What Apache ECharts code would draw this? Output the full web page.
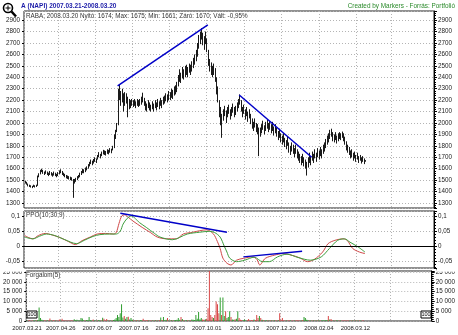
<!DOCTYPE html>
<html><head><meta charset="utf-8">
<script src="https://cdn.jsdelivr.net/npm/echarts@6/dist/echarts.min.js"></script>
<style>html,body{margin:0;padding:0;background:#fff}#c{width:458px;height:335px}</style>
</head><body><div id="c"></div>
<script>
// ---------- texts ----------
const titleText = 'A (NAPI) 2007.03.21-2008.03.20';
const creditText = 'Created by Markers - Forrás: Portfolió';
const priceLegend = 'RABA; 2008.03.20 Nyitó: 1674; Max: 1675; Min: 1661; Záró: 1670; Vált: -0,95%';
const ppoLegend = 'PPO(10;30;9)';
const volLegend = 'Forgalom(5)';

// ---------- calendar ----------
const startDate = [2007, 3, 21];
const slotCount = 300;
const holidays = ['2007.04.09','2007.04.30','2007.05.01','2007.05.28','2007.08.20','2007.10.22','2007.10.23',
  '2007.11.01','2007.12.24','2007.12.25','2007.12.26','2008.01.01','2008.03.24','2008.05.01','2008.05.12'];
const tickLabels = ['2007.03.21','2007.04.26','2007.06.07','2007.07.16','2007.08.23','2007.10.01',
  '2007.11.13','2007.12.20','2008.02.04','2008.03.12'];
const gridDates = tickLabels.concat(['2008.04.18']);

// ---------- price bars (daily) ----------
const closes = [
1480,1470,1455,1450,1445,1440,1450,1445,1450,1530,
1550,1580,1590,1570,1560,1575,1560,1550,1565,1555,
1545,1560,1550,1540,1555,1570,1585,1560,1550,1540,
1530,1525,1520,1515,1510,1480,1490,1500,1520,1530,
1545,1560,1580,1575,1590,1600,1620,1640,1660,1650,
1665,1680,1670,1700,1720,1710,1730,1745,1740,1735,
1750,1745,1760,1755,1780,1800,1880,1960,2250,2310,
2200,2280,2150,2230,2220,2100,2180,2160,2190,2170,
2180,2160,2190,2175,2185,2200,2240,2190,2150,2140,
2180,2150,2130,2160,2140,2170,2150,2180,2160,2190,
2170,2200,2210,2230,2220,2250,2240,2270,2260,2290,
2300,2320,2380,2420,2400,2450,2430,2460,2480,2450,
2490,2470,2500,2530,2560,2600,2650,2720,2760,2800,
2740,2700,2760,2680,2560,2500,2470,2450,2480,2420,
2300,2230,2100,2050,2000,2080,2120,2050,2100,2130,
2080,2110,2140,2100,2120,2150,2180,2220,2150,2100,
2130,2080,2110,2060,2090,2040,2000,1980,2010,1970,
1950,1920,1930,1960,1990,1950,1980,2000,1970,1990,
1960,1980,1940,1960,1930,1900,1920,1880,1860,1880,
1840,1820,1850,1790,1760,1800,1780,1750,1780,1740,
1720,1700,1680,1700,1660,1640,1600,1660,1700,1680,
1720,1700,1740,1710,1750,1730,1760,1740,1780,1800,
1830,1860,1880,1910,1930,1880,1870,1890,1860,1880,
1900,1890,1910,1880,1850,1800,1780,1760,1720,1740,
1700,1720,1690,1710,1680,1700,1670,1690,1660,1670];
const highs = [
1495,1485,1470,1460,1455,1450,1460,1455,1460,1540,
1560,1590,1600,1590,1575,1585,1575,1565,1580,1570,
1560,1575,1565,1555,1570,1585,1595,1580,1565,1555,
1545,1540,1535,1530,1525,1510,1510,1520,1535,1545,
1565,1580,1600,1595,1610,1620,1640,1660,1680,1670,
1685,1700,1690,1720,1745,1730,1750,1765,1760,1755,
1770,1765,1780,1775,1800,1900,1940,2000,2300,2335,
2280,2300,2260,2270,2260,2230,2210,2200,2210,2200,
2210,2190,2210,2200,2210,2230,2265,2220,2190,2170,
2200,2180,2160,2190,2170,2200,2180,2210,2190,2220,
2200,2230,2240,2260,2250,2280,2270,2300,2290,2320,
2330,2360,2420,2470,2440,2490,2470,2500,2510,2490,
2520,2510,2540,2570,2600,2640,2700,2770,2800,2830,
2790,2760,2800,2740,2640,2560,2530,2500,2520,2480,
2400,2320,2200,2140,2080,2120,2150,2110,2140,2160,
2120,2140,2170,2140,2150,2180,2210,2250,2200,2140,
2160,2120,2140,2100,2120,2080,2040,2010,2040,2000,
1990,1960,1960,1990,2020,1980,2010,2030,2000,2020,
1990,2010,1970,1990,1960,1930,1950,1910,1890,1910,
1870,1850,1880,1830,1800,1830,1810,1780,1810,1770,
1750,1730,1710,1730,1700,1680,1660,1700,1740,1710,
1750,1730,1770,1740,1780,1760,1790,1770,1810,1830,
1860,1890,1910,1940,1950,1920,1900,1920,1890,1910,
1920,1910,1925,1910,1880,1840,1810,1790,1760,1770,
1740,1750,1720,1740,1710,1720,1700,1710,1690,1675];
const lows = [
1470,1460,1445,1440,1435,1430,1440,1435,1440,1450,
1525,1550,1570,1555,1545,1555,1545,1535,1545,1540,
1530,1540,1535,1525,1535,1550,1560,1545,1535,1525,
1515,1510,1505,1500,1495,1345,1470,1485,1500,1515,
1525,1545,1560,1560,1570,1585,1600,1620,1640,1630,
1645,1660,1650,1680,1700,1690,1710,1725,1720,1715,
1730,1725,1740,1735,1760,1780,1860,1920,1980,2200,
2150,2180,2100,2150,2170,2050,2120,2130,2150,2140,
2150,2130,2150,2140,2150,2160,2180,2150,2110,2100,
2130,2110,2100,2120,2100,2130,2110,2140,2120,2150,
2130,2160,2170,2190,2180,2200,2200,2220,2210,2240,
2250,2270,2320,2360,2350,2390,2380,2400,2420,2400,
2440,2420,2450,2480,2510,2540,2580,2650,2690,2730,
2680,2640,2690,2620,2500,2450,2420,2400,2420,2360,
2250,2180,2050,1980,1870,2020,2060,2000,2050,2080,
2030,2060,2090,2050,2070,2100,2130,2160,2100,2050,
2080,2030,2060,2010,2040,1990,1950,1930,1960,1920,
1900,1710,1880,1910,1940,1900,1930,1950,1920,1940,
1910,1930,1890,1910,1880,1850,1870,1830,1810,1830,
1790,1770,1800,1740,1720,1750,1730,1700,1730,1690,
1670,1650,1630,1650,1620,1600,1540,1610,1650,1630,
1670,1650,1690,1660,1700,1680,1710,1690,1730,1750,
1780,1810,1830,1860,1880,1840,1830,1850,1820,1840,
1860,1850,1870,1840,1810,1760,1740,1720,1690,1700,
1670,1690,1660,1680,1650,1670,1645,1660,1640,1661];

// ---------- volume (Forgalom) ----------
const volumes = [
300,200,400,150,250,200,350,300,500,6900,
1500,600,400,300,250,350,200,1300,300,250,
500,200,300,150,800,300,1200,250,200,300,
150,200,250,300,200,900,400,600,300,250,
1500,1300,400,300,500,350,2000,400,300,800,
250,300,200,400,350,300,1600,1200,300,1000,
250,200,300,250,500,800,1500,3000,2000,4000,
8600,1800,2500,1200,2000,2200,800,1500,600,400,
300,350,250,300,400,350,1200,300,250,500,
300,200,250,300,200,350,300,250,400,1800,
500,2000,400,600,1500,300,250,400,300,350,
500,600,1500,700,2000,1000,400,300,350,400,
300,250,800,600,500,3000,1200,4600,900,1500,
800,700,900,1200,6500,28000,3000,2000,1500,3000,
10000,8500,4000,12000,3000,12000,2500,5000,1500,2000,
5000,2000,800,600,900,1200,5000,1500,600,500,
400,800,300,400,1000,300,500,400,800,500,
3000,1500,2500,1500,600,400,300,350,250,300,
400,300,250,350,300,200,400,4000,600,1500,
300,250,200,300,400,300,250,200,300,350,
400,300,250,300,500,2000,1500,600,400,300,
250,300,200,250,300,200,350,300,250,400,
300,350,500,2500,800,1000,300,250,300,200,
250,300,200,250,300,200,250,300,200,250,
300,200,250,300,200,250,300,200,250,300];
// u = up day (green), d = down day (red)
const volSide = ('udddduuduu'+'uuudduddud'+'dudddudddd'+'ddddduuuuu'+'uuuduuuuud'+
  'uuduududdd'+'ududuuuuuu'+'uuduuduuud'+'ududuudddd'+'uddudududu'+
  'duuudududu'+'uuuududuud'+'uduuuuuuuu'+'ddudddddud'+'ddduduuduu'+
  'uduuduuddd'+'uuudddddud'+'ddududuudu'+'dududduddd'+'ddudduddud'+
  'ddduduuuud'+'ududududuu'+'uuududdudu'+'ududdddddu'+'dududududd');

// ---------- PPO(10;30;9): [bar index, value] ----------
const ppoLine = [[0,0.035],[3,0.028],[6,0.024],[10,0.035],[15,0.042],[20,0.037],[26,0.028],[32,0.015],
  [37,0.005],[42,0.018],[48,0.03],[53,0.04],[59,0.042],[65,0.04],[67,0.045],[69,0.075],[71,0.1],[73,0.104],
  [76,0.095],[79,0.084],[86,0.062],[92,0.045],[97,0.03],[104,0.024],[111,0.024],[116,0.04],[123,0.046],
  [128,0.051],[133,0.054],[138,0.041],[141,0.015],[143,-0.008],[145,-0.04],[148,-0.057],[151,-0.063],
  [155,-0.047],[160,-0.041],[167,-0.036],[170,-0.045],[172,-0.063],[176,-0.041],[183,-0.03],[189,-0.025],
  [198,-0.034],[202,-0.041],[207,-0.052],[212,-0.044],[218,-0.02],[222,0.008],[227,0.019],[233,0.024],
  [236,0.019],[240,-0.008],[245,-0.02],[249,-0.025]];
const signalLine = [[0,0.03],[6,0.024],[11,0.033],[16,0.04],[22,0.035],[29,0.022],[38,0.008],[44,0.02],
  [50,0.032],[55,0.038],[62,0.04],[67,0.04],[70,0.05],[72,0.073],[75,0.092],[78,0.1],[84,0.078],[89,0.062],
  [95,0.042],[99,0.03],[108,0.021],[119,0.04],[128,0.046],[135,0.049],[139,0.045],[143,0.03],[146,0.0],
  [148,-0.02],[150,-0.04],[155,-0.052],[161,-0.047],[168,-0.037],[174,-0.052],[179,-0.052],[185,-0.036],
  [192,-0.027],[200,-0.038],[209,-0.047],[217,-0.036],[223,-0.008],[229,0.019],[234,0.024],[238,0.013],
  [244,-0.003],[249,-0.02]];

// ---------- trend lines ----------
const priceTrends = [[[68,2325],[134,2858]], [[157,2245],[210,1700]]];
const ppoTrends = [[[70,0.109],[148,0.046]], [[160,-0.036],[203,-0.017]]];

// ---------- build categories ----------
function pad(n){return (n<10?'0':'')+n;}
const dates = [];
(function(){
  const d = new Date(Date.UTC(startDate[0], startDate[1]-1, startDate[2]));
  while (dates.length < slotCount) {
    const wd = d.getUTCDay();
    const s = d.getUTCFullYear()+'.'+pad(d.getUTCMonth()+1)+'.'+pad(d.getUTCDate());
    if (wd !== 0 && wd !== 6 && holidays.indexOf(s) < 0) dates.push(s);
    d.setUTCDate(d.getUTCDate()+1);
  }
})();

const FONT = "'Liberation Sans Narrow','Liberation Sans',Arial,sans-serif";
const GRID_LINE = {color:'#b4b4b4', type:[1,2], width:1};
const UP = '#2f9e2f', DOWN = '#d94848';

function priceFmt(v){ return String(Math.round(v)); }
function volFmt(v){ return String(Math.round(v)).replace(/\B(?=(\d{3})+(?!\d))/g,' '); }
function ppoFmt(v){ return String(+v.toFixed(3)).replace('.',','); }

function yAx(grid, pos, min, max, split, fmt, showSplit, showMin){
  const right = pos === 'right';
  return {
    type:'value', gridIndex:grid, position:pos, min:min, max:max, splitNumber:split,
    axisLine:{show:right, onZero:false, lineStyle:{color:'#000', width:1}},
    axisTick:{show:true, inside:false, length:right?3:2, lineStyle:{color:'#000'}},
    minorTick:{show:right, splitNumber:5, length:2, lineStyle:{color:'#000'}},
    axisLabel:{fontSize:6.3, fontFamily:FONT, color:'#222', margin:4, formatter:fmt,
      showMinLabel:showMin, showMaxLabel:false},
    splitLine:{show:showSplit, lineStyle:GRID_LINE}
  };
}

const gridBox = {show:true, borderColor:'#222', borderWidth:1, left:24, right:24, backgroundColor:'#fff'};
const grids = [
  Object.assign({top:11, height:197}, gridBox),
  Object.assign({top:211, height:57}, gridBox),
  Object.assign({top:271, height:50}, gridBox)
];

const xAxes = [0,1,2].map(function(i){
  return {
    type:'category', gridIndex:i, data:dates, boundaryGap:true,
    axisLine:{show:false}, axisTick:{show:false},
    axisLabel: i===2 ? {show:true, interval:function(idx,val){return tickLabels.indexOf(val)>=0;},
      showMinLabel:true, hideOverlap:false,
      fontSize:5.9, fontFamily:FONT, color:'#222', margin:4} : {show:false},
    splitLine:{show:true, interval:function(idx,val){return gridDates.indexOf(val)>=0;}, lineStyle:GRID_LINE}
  };
});

const yAxes = [
  yAx(0,'right',1256,2980,17,priceFmt,true,false),
  yAx(0,'left',1256,2980,17,priceFmt,false,false),
  yAx(1,'right',-0.073,0.1166,4,ppoFmt,true,false),
  yAx(1,'left',-0.073,0.1166,4,ppoFmt,false,false),
  yAx(2,'right',0,25500,5,volFmt,true,true),
  yAx(2,'left',0,25500,5,volFmt,false,true)
];

const priceData = closes.map(function(c,i){ return [i, highs[i], lows[i], c]; });

const series = [{
  type:'custom', xAxisIndex:0, yAxisIndex:0, data:priceData, encode:{x:0, y:[1,2]}, clip:true,
  renderItem:function(params, api){
    const h = api.coord([api.value(0), api.value(1)]);
    const l = api.coord([api.value(0), api.value(2)]);
    const x = Math.round(h[0]) + 0.5;
    return {type:'line', shape:{x1:x, y1:h[1], x2:x, y2:l[1]}, style:{stroke:'#1a1a1a', lineWidth:1}};
  }
}];
priceTrends.forEach(function(t){
  series.push({type:'line', xAxisIndex:0, yAxisIndex:0, data:t, symbol:'none', silent:true,
    lineStyle:{color:'#0000c8', width:1.5}, z:5});
});
series.push({type:'line', xAxisIndex:1, yAxisIndex:2, data:ppoLine, symbol:'none', smooth:0.3,
  lineStyle:{color:'#d04848', width:1}, z:4,
  markLine:{silent:true, symbol:'none', label:{show:false}, animation:false,
    lineStyle:{color:'#000', type:'solid', width:1}, data:[{yAxis:0}]}});
series.push({type:'line', xAxisIndex:1, yAxisIndex:2, data:signalLine, symbol:'none', smooth:0.3,
  lineStyle:{color:'#3d9e3d', width:1}, z:4});
ppoTrends.forEach(function(t){
  series.push({type:'line', xAxisIndex:1, yAxisIndex:2, data:t, symbol:'none', silent:true,
    lineStyle:{color:'#0000c8', width:1.5}, z:5});
});
series.push({type:'bar', xAxisIndex:2, yAxisIndex:4, barWidth:1, clip:true,
  data:volumes.map(function(v,i){ return {value:v, itemStyle:{color: volSide.charAt(i)==='u' ? UP : DOWN}}; })});

const txt = function(x, y, text, opt){
  return {type:'text', left:x, top:y, z:100, silent:true,
    style:Object.assign({text:text, fontSize:6.3, fontFamily:FONT, fill:'#222'}, opt||{})};
};

const graphic = [
  // magnifier icon
  {type:'circle', shape:{cx:8, cy:8, r:4.5}, style:{fill:'#fff', stroke:'#000', lineWidth:1.6}, z:100},
  {type:'line', shape:{x1:5.5, y1:8, x2:10.5, y2:8}, style:{stroke:'#000', lineWidth:1}, z:101},
  {type:'line', shape:{x1:8, y1:5.5, x2:8, y2:10.5}, style:{stroke:'#000', lineWidth:1}, z:101},
  {type:'line', shape:{x1:11.5, y1:11.5, x2:16, y2:16.5}, style:{stroke:'#000', lineWidth:2.5}, z:100},
  txt(21, 3, titleText, {fill:'#1c1ca8', fontWeight:'bold', fontSize:6.5}),
  {type:'text', right:3, top:3, z:100, silent:true,
    style:{text:creditText, fontSize:6.4, fontFamily:FONT, fill:'#2a8a2a'}},
  txt(26, 13, priceLegend, {backgroundColor:'#fff', padding:[0,1,0,0], fill:'#333'}),
  txt(26, 212.5, ppoLegend, {backgroundColor:'#fff', fill:'#333'}),
  txt(26, 272.5, volLegend, {backgroundColor:'#fff', fill:'#333'}),
  // hide top half of the clipped 25 000 labels
  {type:'rect', shape:{x:0, y:268.5, width:23.5, height:3.2}, style:{fill:'#fff'}, z:90},
  {type:'rect', shape:{x:437, y:268.5, width:21, height:3.2}, style:{fill:'#fff'}, z:90},
  // small "100" buttons
  {type:'rect', shape:{x:27, y:311, width:10, height:7}, style:{fill:'#fff', stroke:'#000', lineWidth:1}, z:100},
  {type:'text', x:32, y:314.5, z:101, silent:true,
    style:{text:'100', fontSize:5.5, fontFamily:FONT, fill:'#000', align:'center', verticalAlign:'middle'}},
  {type:'rect', shape:{x:421, y:311, width:10, height:7}, style:{fill:'#fff', stroke:'#000', lineWidth:1}, z:100},
  {type:'text', x:426, y:314.5, z:101, silent:true,
    style:{text:'100', fontSize:5.5, fontFamily:FONT, fill:'#000', align:'center', verticalAlign:'middle'}}
];

const chart = echarts.init(document.getElementById('c'), null, {renderer:'canvas'});
chart.setOption({
  animation:false, backgroundColor:'#fff',
  grid:grids, xAxis:xAxes, yAxis:yAxes, series:series, graphic:graphic
});
</script></body></html>
